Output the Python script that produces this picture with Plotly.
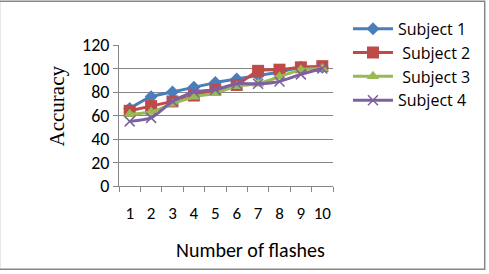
import plotly.graph_objects as go

flashes = [1, 2, 3, 4, 5, 6, 7, 8, 9, 10]
subject1 = [66, 76, 80, 84, 88, 91, 94, 97, 101, 101]
subject2 = [64, 68, 72, 77, 82, 86, 98, 99, 101, 102]
subject3 = [61, 63, 70, 76, 79, 85, 87, 93, 99, 100]
subject4 = [55, 58, 72, 80, 82, 87, 87, 89, 95, 100]
names = ["Subject 1", " Subject 2", " Subject 3", "Subject 4"]
y_ticks = [0, 20, 40, 60, 80, 100, 120]
x_labels = [str(v) for v in flashes]

colors = ["#4A7EBB", "#BE4B48", "#98B954", "#7D60A0"]
symbols = ["diamond", "square", "triangle-up", "x-thin"]
sizes = [10, 12, 11, 10]

fig = go.Figure()
for ys, name, c, s, sz in zip([subject1, subject2, subject3, subject4], names, colors, symbols, sizes):
    marker = dict(symbol=s, size=sz, color=c)
    if s == "x-thin":
        marker["line"] = dict(color=c, width=1.5)
    fig.add_trace(go.Scatter(
        x=x_labels, y=ys, name=name, mode="lines+markers",
        line=dict(color=c, width=3, shape="spline", smoothing=0.6),
        marker=marker,
    ))

W, H = 213, 141.5
font = "Carlito, Lato, 'Open Sans', sans-serif"
fig.update_layout(
    width=489, height=274,
    margin=dict(l=119, r=156, t=45, b=87.5),
    paper_bgcolor="white", plot_bgcolor="white",
    font=dict(family=font, size=18, color="black"),
    showlegend=True,
    legend=dict(x=1.07, y=1.235, xanchor="left", yanchor="top",
                font=dict(size=16, family="'Open Sans', sans-serif"), itemwidth=40, tracegroupgap=0,
                bgcolor="rgba(0,0,0,0)"),
    xaxis=dict(type="category", range=[-0.5, 9.5], showgrid=False, showline=True, linecolor="#868686",
               ticks="outside", tickson="boundaries", ticklen=5, tickcolor="#868686",
               tickmode="array", tickvals=x_labels, ticktext=x_labels,
               ticklabelstandoff=12, tickangle=0, tickfont=dict(size=17)),
    yaxis=dict(range=[0, 120], tickvals=y_ticks, showgrid=True, gridcolor="#868686",
               showline=True, linecolor="#868686", ticks="outside", ticklen=5,
               tickcolor="#868686", zeroline=False, tickfont=dict(size=18)),
    annotations=[
        dict(text="Number of flashes", xref="paper", yref="paper",
             x=(250-119)/W, y=-(251-186.5)/H, xanchor="center", yanchor="middle",
             showarrow=False, font=dict(size=20)),
        dict(text="Accuracy", xref="paper", yref="paper", textangle=-90,
             x=-(119-57)/W, y=(186.5-106)/H, xanchor="center", yanchor="middle",
             showarrow=False, font=dict(family="'Liberation Serif', serif", size=21)),
    ],
    shapes=[dict(type="rect", xref="paper", yref="paper",
                 x0=-119/W, x1=(483-119)/W, y0=-(270-186.5)/H, y1=(186.5-1)/H,
                 line=dict(color="#868686", width=1.5))],
)

fig.write_html("out.html")
